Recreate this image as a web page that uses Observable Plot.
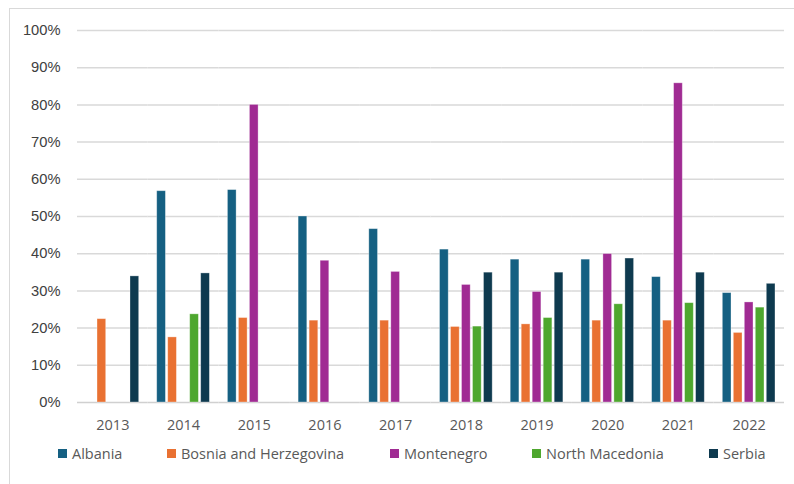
<!DOCTYPE html>
<html>
<head>
<meta charset="utf-8">
<script src="https://cdn.jsdelivr.net/npm/d3@7"></script>
<script src="https://cdn.jsdelivr.net/npm/@observablehq/plot@0.6"></script>
<style>
  html, body { margin: 0; padding: 0; background: #fff; width: 794px; height: 484px; overflow: hidden; }
  #frame { position: absolute; left: 9px; top: 8px; width: 820px; height: 520px; border: 1.5px solid #d9d9d9; box-sizing: border-box; }
  #chart { position: absolute; left: 0; top: 0; }
  #legend { position: absolute; left: 0; top: 443px; width: 794px; height: 20px; font-family: "Open Sans", sans-serif; font-size: 14.5px; color: #595959; }
  .item { position: absolute; top: 0; display: flex; align-items: center; height: 20px; white-space: nowrap; }
  .sw { width: 9px; height: 9px; margin-right: 5px; }
</style>
</head>
<body>
<div id="frame"></div>
<div id="chart"></div>
<div id="legend"></div>
<script>
const years = ["2013","2014","2015","2016","2017","2018","2019","2020","2021","2022"];
const countries = ["Albania","Bosnia and Herzegovina","Montenegro","North Macedonia","Serbia"];
const colors = ["#156082","#e97132","#a02b93","#4ea72e","#0e3a4f"];
const albania    = [null, 0.568, 0.571, 0.500, 0.466, 0.411, 0.384, 0.384, 0.337, 0.294];
const bosnia     = [0.224, 0.175, 0.227, 0.220, 0.220, 0.203, 0.210, 0.220, 0.220, 0.187];
const montenegro = [null, null, 0.800, 0.381, 0.351, 0.316, 0.297, 0.399, 0.858, 0.269];
const macedonia  = [null, 0.237, null, null, null, 0.204, 0.227, 0.264, 0.267, 0.255];
const serbia     = [0.339, 0.347, null, null, null, 0.349, 0.349, 0.387, 0.349, 0.319];
const yTicks = [0,0.1,0.2,0.3,0.4,0.5,0.6,0.7,0.8,0.9,1.0];
const legendX = [58, 167, 390, 532, 709];

const series = [albania, bosnia, montenegro, macedonia, serbia];
const data = [];
years.forEach((yr, i) => countries.forEach((c, j) => {
  const v = series[j][i];
  if (v != null) data.push({year: yr, country: c, value: v});
}));

const chart = Plot.plot({
  width: 794,
  height: 440,
  marginTop: 30,
  marginBottom: 38,
  marginLeft: 77,
  marginRight: 10,
  style: {background: "transparent", overflow: "visible"},
  fx: {domain: years, padding: 0, round: false, label: null, axis: null},
  x: {domain: countries, paddingInner: 0.21, paddingOuter: 0.82, round: false, axis: null},
  y: {domain: [0, 1], label: null, ticks: yTicks, axis: null},
  color: {domain: countries, range: colors},
  marks: [
    Plot.ruleY(yTicks.filter(d => d > 0), {stroke: "#d9d9d9", strokeWidth: 1.5}),
    Plot.ruleY([0], {stroke: "#d0d0d0", strokeWidth: 1.5}),
    Plot.axisY(yTicks, {tickSize: 0, tickPadding: 17, tickFormat: d3.format(".0%"), fontSize: 14.7, fill: "#404040", fontFamily: "Liberation Sans, Arial, sans-serif", facetAnchor: "left", label: null}),
    Plot.barY(data, {fx: "year", x: "country", y: "value", fill: "country", stroke: "#ffffff", strokeOpacity: 0.4, strokeWidth: 0.8}),
    Plot.axisFx({anchor: "bottom", tickSize: 0, tickPadding: 17, fontSize: 14.5, fill: "#595959", fontFamily: "Open Sans, sans-serif", label: null})
  ]
});
document.getElementById("chart").appendChild(chart);

const legend = document.getElementById("legend");
countries.forEach((c, j) => {
  const it = document.createElement("div");
  it.className = "item";
  it.style.left = legendX[j] + "px";
  const sw = document.createElement("span");
  sw.className = "sw";
  sw.style.background = colors[j];
  const tx = document.createElement("span");
  tx.textContent = c;
  it.appendChild(sw); it.appendChild(tx);
  legend.appendChild(it);
});
</script>
</body>
</html>
